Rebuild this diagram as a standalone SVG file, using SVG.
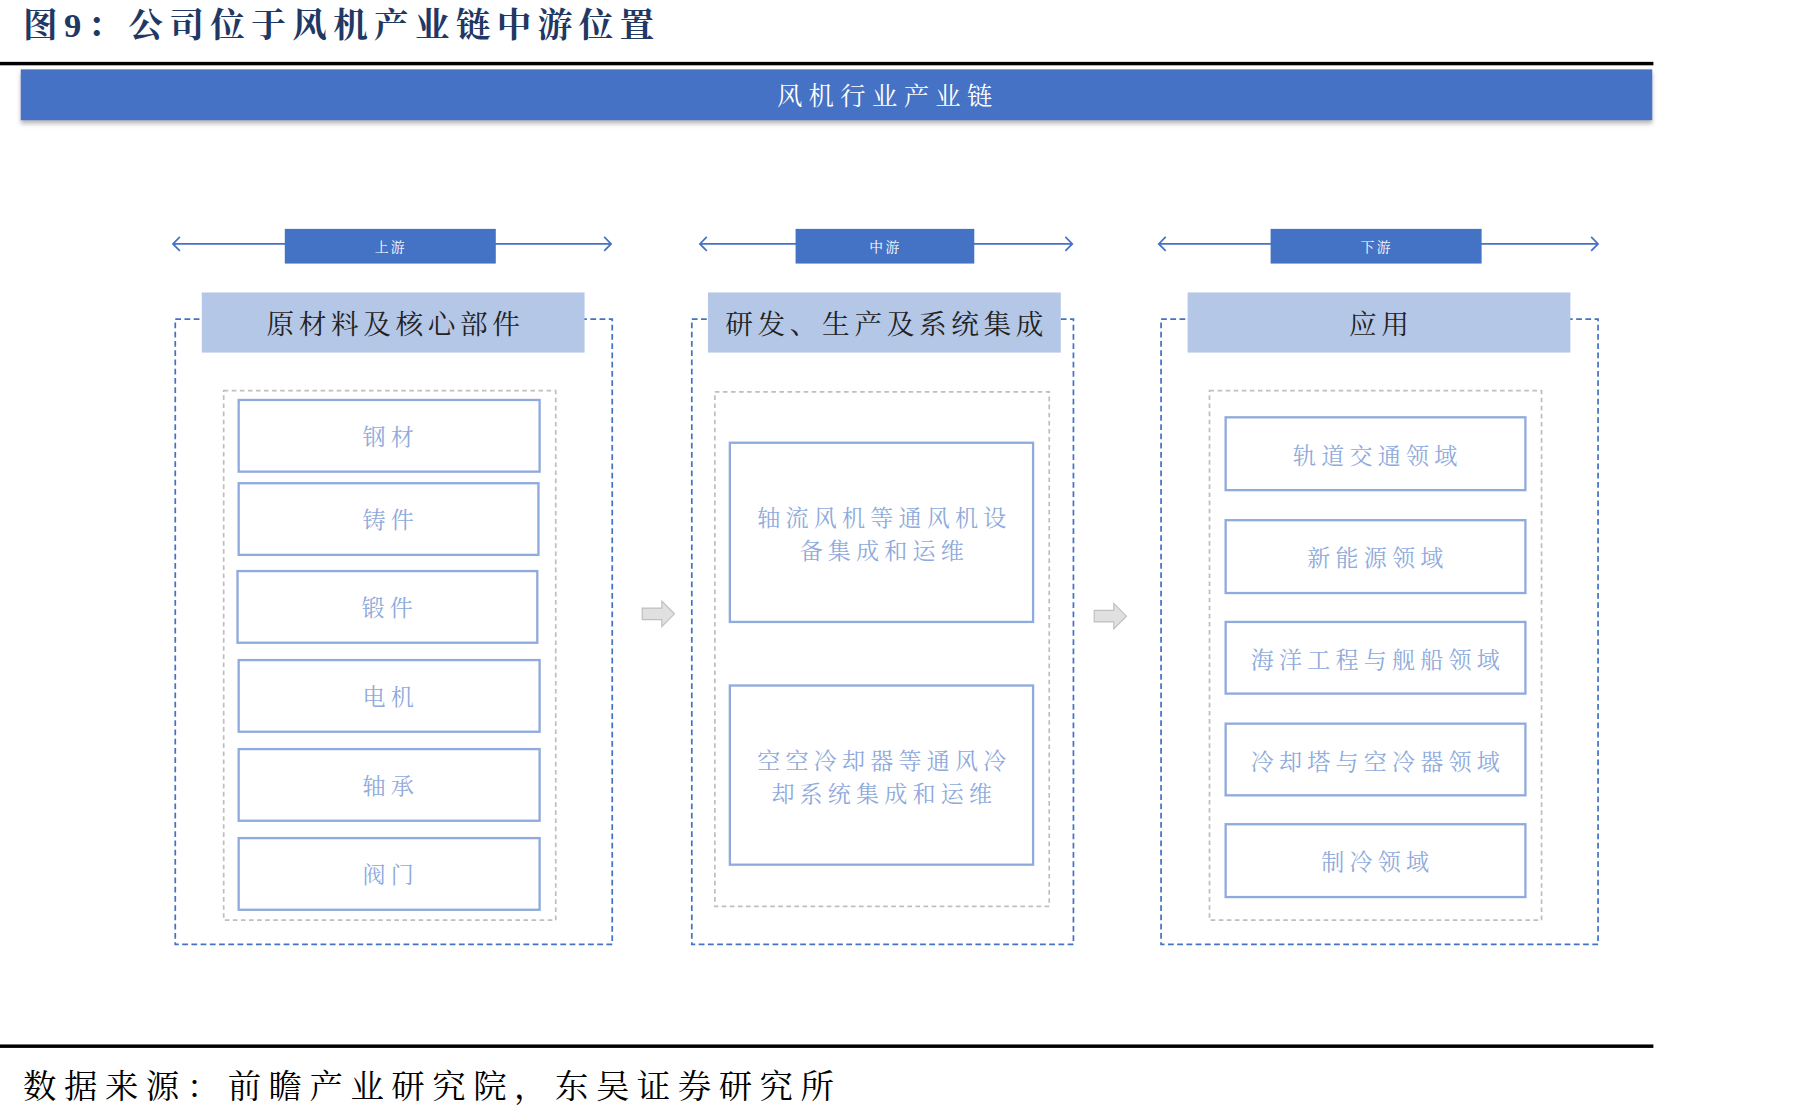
<svg xmlns="http://www.w3.org/2000/svg" width="1807" height="1115" viewBox="0 0 1807 1115">
<defs>
<style>
.serif{font-family:"Liberation Serif","Noto Serif CJK SC","Noto Sans CJK SC",serif}
.hdr{fill:#B4C7E7}
.outer{fill:none;stroke:#4472C4;stroke-width:1.5;stroke-dasharray:5,3}
.inner{fill:none;stroke:#BFBFBF;stroke-width:1.5;stroke-dasharray:4,3}
.item{fill:#fff;stroke:#8FAADC;stroke-width:2}
.it{font-size:20px;fill:#8FAADC;text-anchor:middle;letter-spacing:4.5px}
.ht{font-size:24px;fill:#222;text-anchor:middle;letter-spacing:4px}
.tag{fill:#4472C4}
.tt{font-size:12px;fill:#fff;text-anchor:middle;letter-spacing:2px}
.ln{stroke:#4472C4;stroke-width:1.5;fill:none}
.blk{fill:#E0E0E0;stroke:#BFBFBF;stroke-width:1}
</style>
<filter id="sh" x="-5%" y="-20%" width="110%" height="160%"><feDropShadow dx="0" dy="3" stdDeviation="2" flood-color="#888" flood-opacity="0.6"/></filter>
</defs>
<rect width="1807" height="1115" fill="#fff"/>
<g transform="scale(1.153,1.156)">
<g id="title"><text x="20" y="32" class="serif" font-size="30" font-weight="bold" fill="#1F3864" letter-spacing="5.5">图9：公司位于风机产业链中游位置</text>
<rect x="0" y="53.5" width="1434" height="3" fill="#000"/></g>
<g id="banner"><rect x="18" y="60" width="1415" height="44" fill="#4472C4" filter="url(#sh)"/>
<text x="770" y="91" class="serif" font-size="22" fill="#fff" text-anchor="middle" letter-spacing="5.5">风机行业产业链</text></g>
<g id="connectors">
<path class="ln" d="M150,211H530M156,205L150,211L156,217M524,205L530,211L524,217"/>
<path class="ln" d="M607,211H930M613,205L607,211L613,217M924,205L930,211L924,217"/>
<path class="ln" d="M1005,211H1386M1011,205L1005,211L1011,217M1380,205L1386,211L1380,217"/>
<path class="blk" d="M557,526H574V520L585,531L574,542V536H557Z"/>
<path class="blk" d="M949,528H966V522L977,533L966,544V538H949Z"/>
</g>
<g id="tag-up"><rect class="tag" x="247" y="198" width="183" height="30"/><text class="serif tt" x="339" y="218">上游</text></g>
<g id="tag-mid"><rect class="tag" x="690" y="198" width="155" height="30"/><text class="serif tt" x="768" y="218">中游</text></g>
<g id="tag-down"><rect class="tag" x="1102" y="198" width="183" height="30"/><text class="serif tt" x="1194" y="218">下游</text></g>
<g id="col-up">
<rect class="outer" x="152" y="276" width="379" height="541"/>
<rect class="hdr" x="175" y="253" width="332" height="52"/><text class="serif ht" x="343" y="289">原材料及核心部件</text>
<rect class="inner" x="194" y="338" width="288" height="458"/>
<rect class="item" x="207" y="346" width="261" height="62"/><text class="serif it" x="339" y="385">钢材</text>
<rect class="item" x="207" y="418" width="260" height="62"/><text class="serif it" x="339" y="457">铸件</text>
<rect class="item" x="206" y="494" width="260" height="62"/><text class="serif it" x="338" y="533">锻件</text>
<rect class="item" x="207" y="571" width="261" height="62"/><text class="serif it" x="339" y="610">电机</text>
<rect class="item" x="207" y="648" width="261" height="62"/><text class="serif it" x="339" y="687">轴承</text>
<rect class="item" x="207" y="725" width="261" height="62"/><text class="serif it" x="339" y="764">阀门</text>
</g>
<g id="col-mid">
<rect class="outer" x="600" y="276" width="331" height="541"/>
<rect class="hdr" x="614" y="253" width="306" height="52"/><text class="serif ht" x="769" y="289">研发、生产及系统集成</text>
<rect class="inner" x="620" y="339" width="290" height="445"/>
<rect class="item" x="633" y="383" width="263" height="155"/><text class="serif it" x="767" y="455">轴流风机等通风机设</text><text class="serif it" x="767" y="484">备集成和运维</text>
<rect class="item" x="633" y="593" width="263" height="155"/><text class="serif it" x="767" y="665">空空冷却器等通风冷</text><text class="serif it" x="767" y="694">却系统集成和运维</text>
</g>
<g id="col-down">
<rect class="outer" x="1007" y="276" width="379" height="541"/>
<rect class="hdr" x="1030" y="253" width="332" height="52"/><text class="serif ht" x="1198" y="289">应用</text>
<rect class="inner" x="1049" y="338" width="288" height="458"/>
<rect class="item" x="1063" y="361" width="260" height="63"/><text class="serif it" x="1195" y="401">轨道交通领域</text>
<rect class="item" x="1063" y="450" width="260" height="63"/><text class="serif it" x="1195" y="490">新能源领域</text>
<rect class="item" x="1063" y="538" width="260" height="62"/><text class="serif it" x="1195" y="578">海洋工程与舰船领域</text>
<rect class="item" x="1063" y="626" width="260" height="62"/><text class="serif it" x="1195" y="666">冷却塔与空冷器领域</text>
<rect class="item" x="1063" y="713" width="260" height="63"/><text class="serif it" x="1195" y="753">制冷领域</text>
</g>
<g id="footer"><rect x="0" y="903.5" width="1434" height="3" fill="#000"/>
<text x="20" y="950" class="serif" font-size="29" fill="#000" letter-spacing="6.5">数据来源：前瞻产业研究院，东吴证券研究所</text></g>
</g>
</svg>
